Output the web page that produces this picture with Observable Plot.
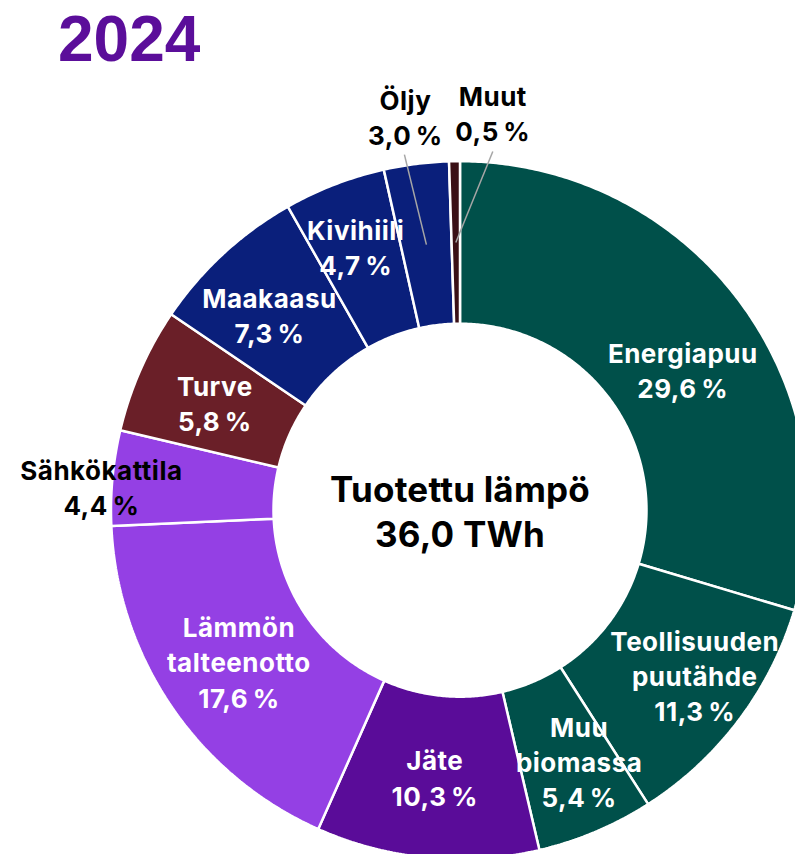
<!DOCTYPE html>
<html>
<head>
<meta charset="utf-8">
<script src="https://cdn.jsdelivr.net/npm/d3@7"></script>
<script src="https://cdn.jsdelivr.net/npm/@observablehq/plot@0.6"></script>
<style>
html, body { margin: 0; padding: 0; background: #fff; overflow: hidden; }
#chart { width: 795px; height: 854px; overflow: hidden; position: relative; }
#chart svg text { letter-spacing: 0.5px; }
</style>
</head>
<body>
<div id="chart"></div>
<script>
// ---- data ----
const categories = ["Energiapuu", "Teollisuuden puutähde", "Muu biomassa", "Jäte", "Lämmön talteenotto", "Sähkökattila", "Turve", "Maakaasu", "Kivihiili", "Öljy", "Muut"];
const labelNames = ["Energiapuu", "Teollisuuden\npuutähde", "Muu\nbiomassa", "Jäte", "Lämmön\ntalteenotto", "Sähkökattila", "Turve", "Maakaasu", "Kivihiili", "Öljy", "Muut"];
const shares = [29.6, 11.3, 5.4, 10.3, 17.6, 4.4, 5.8, 7.3, 4.7, 3.0, 0.5];
const colors = ["#00504a", "#00504a", "#00504a", "#5a0c99", "#9440e4", "#9440e4", "#6a1f28", "#0a1f7b", "#0a1f7b", "#0a1f7b", "#3a1016"];
const title = "2024";
const centerTitle = "Tuotettu lämpö";
const totalTWh = 36.0;

// ---- layout (pixels) ----
const cx = 459.5, cy = 509.7, R = 349, innerR = 186.5;
const innerRatio = innerR / R;
const labelOffsets = [[8, 19], [21, 3], [15, 4], [0, 0], [0, 0], [-92, 1], [0, 0], [-9, 1], [-8, -14], [-21, -128], [37, -130]];
const outsideLabels = new Set(["Sähkökattila", "Öljy", "Muut"]);
const leaderLabels = {"Öljy": [-1, 38], "Muut": [0, 39]};

const fmt = v => v.toFixed(1).replace(".", ",");

const arcs = d3.pie().sort(null).value(d => d)(shares);

const ringPoints = [];
arcs.forEach((a, i) => {
  const n = Math.max(2, Math.ceil((a.endAngle - a.startAngle) * 180 / Math.PI * 2));
  for (let k = 0; k <= n; k++) {
    const t = a.startAngle + (a.endAngle - a.startAngle) * k / n;
    ringPoints.push({name: categories[i], x: Math.sin(t), y: Math.cos(t)});
  }
  for (let k = n; k >= 0; k--) {
    const t = a.startAngle + (a.endAngle - a.startAngle) * k / n;
    ringPoints.push({name: categories[i], x: innerRatio * Math.sin(t), y: innerRatio * Math.cos(t)});
  }
});

const rm = (1 + innerRatio) / 2;
const labels = arcs.map((a, i) => {
  const mid = (a.startAngle + a.endAngle) / 2;
  const ox = rm * Math.sin(mid), oy = rm * Math.cos(mid);
  const [dx, dy] = labelOffsets[i];
  return {
    name: categories[i],
    cxv: ox, cyv: oy,
    x: ox + dx / R, y: oy - dy / R,
    text: labelNames[i] + "\n" + fmt(shares[i]) + "\u202F%",
    outside: outsideLabels.has(categories[i])
  };
});

const leaders = labels.filter(d => leaderLabels[d.name]).map(d => {
  const [lx, ly] = leaderLabels[d.name];
  return {x1: d.cxv, y1: d.cyv, x2: d.x + lx / R, y2: d.y - ly / R};
});

const centerText = centerTitle + "\n" + fmt(totalTWh) + " TWh";

const chart = Plot.plot({
  width: 795,
  height: 854,
  margin: 0,
  x: {domain: [-1, 1], range: [cx - R, cx + R], axis: null},
  y: {domain: [-1, 1], range: [cy + R, cy - R], axis: null},
  color: {domain: categories, range: colors},
  style: {fontFamily: "Inter, sans-serif", background: "white", overflow: "hidden"},
  marks: [
    Plot.line(ringPoints, {x: "x", y: "y", z: "name", fill: "name", stroke: "white", strokeWidth: 2.5, strokeLinejoin: "miter", curve: "linear-closed"}),
    Plot.link(leaders, {x1: "x1", y1: "y1", x2: "x2", y2: "y2", stroke: "#a6a6a6", strokeWidth: 1.5}),
    Plot.text(labels.filter(d => !d.outside), {x: "x", y: "y", text: "text", fill: "white", fontSize: 26, fontWeight: 700, lineHeight: 1.35}),
    Plot.text(labels.filter(d => d.outside), {x: "x", y: "y", text: "text", fill: "black", fontSize: 26, fontWeight: 700, lineHeight: 1.35}),
    Plot.text([{x: 0, y: 0, text: centerText}], {x: "x", y: "y", text: "text", fill: "black", fontSize: 35, fontWeight: 700, lineHeight: 1.28}),
    Plot.text([title], {frameAnchor: "top-left", dx: 57.5, dy: 14.6, text: d => d, fill: "#5b0e9a", fontSize: 64, fontWeight: 700, fontFamily: "Liberation Sans, Arial, sans-serif", textAnchor: "start", lineAnchor: "top"})
  ]
});
d3.select(chart).selectAll("text").each(function() {
  const t = this.textContent;
  if (t === title) this.style.letterSpacing = "0px";
  else if (t.startsWith(centerTitle) || t.includes("TWh")) this.style.letterSpacing = "0.2px";
});
document.getElementById("chart").appendChild(chart);
</script>
</body>
</html>
